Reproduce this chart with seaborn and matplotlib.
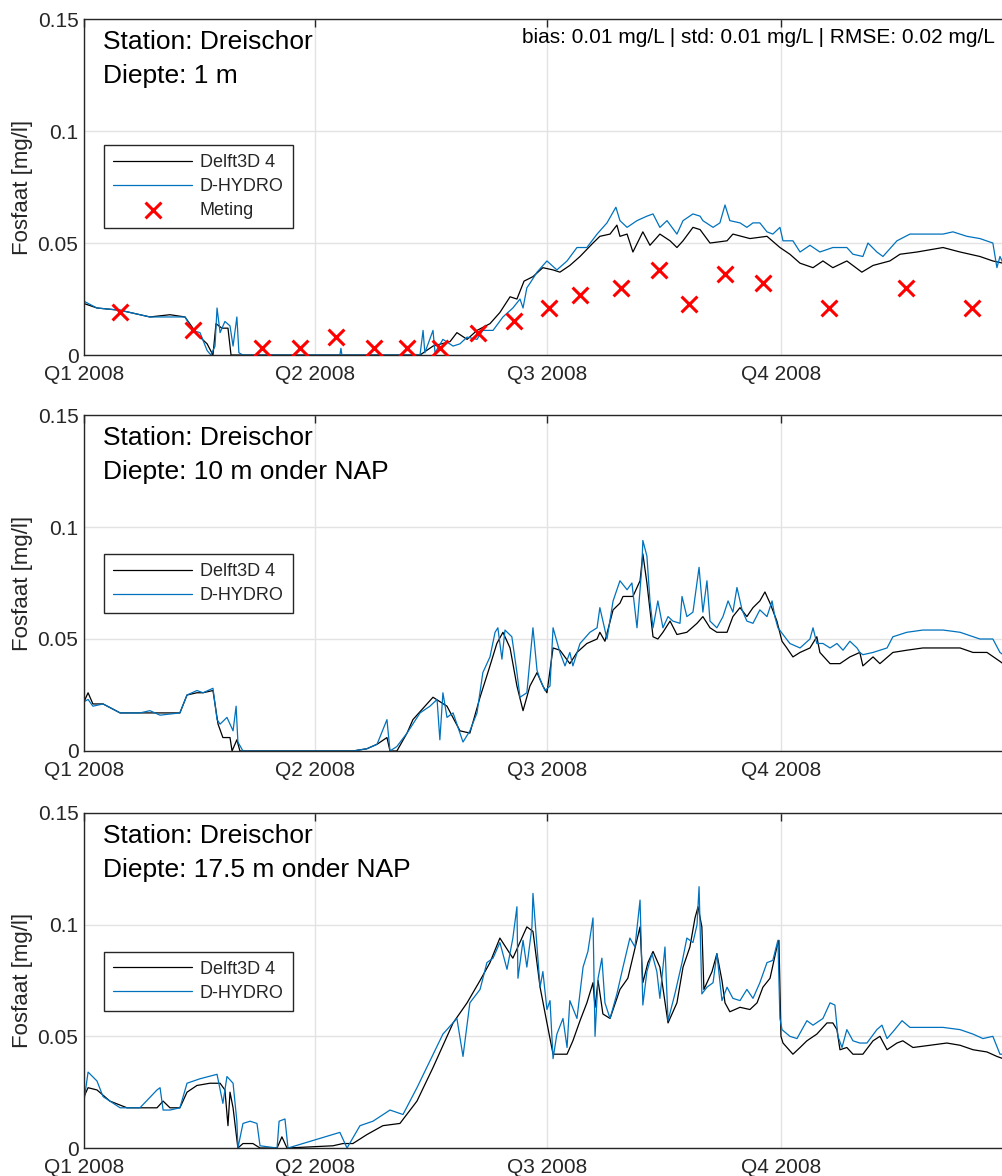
import numpy as np
import pandas as pd
import seaborn as sns
import matplotlib.pyplot as plt

START = pd.Timestamp("2008-01-01")

# ---- Diepte: 1 m (days after 1 Jan 2008, mg/l)
p1_d3d_days = [0, 5.1, 14.2, 25.9, 33.8, 39.7, 42.8, 45.6, 48.4, 50.7, 51.9, 54.2, 56.6, 57.8,
               132.1, 137.2, 143.9, 146.6, 150.6, 154.5, 159.6, 163.5, 167.5, 170.2, 173.0, 176.5,
               180.4, 184.4, 187.1, 191.0, 195.0, 200.1, 202.8, 206.8, 209.5, 210.7, 213.5, 215.8,
               219.7, 222.5, 226.4, 230.4, 233.1, 235.5, 239.4, 242.2, 246.1, 252.8, 255.1, 261.8,
               268.5, 273.6, 277.5, 281.5, 286.6, 290.5, 294.4, 299.9, 305.8, 310.2, 316.8, 320.8,
               327.5, 337.7, 344.4, 352.2, 357.3, 361.3]
p1_d3d_vals = [0.023, 0.021, 0.020, 0.017, 0.018, 0.017, 0.012, 0.008, 0.005, 0.000, 0.014, 0.012, 0.012, 0.000,
               0.000, 0.004, 0.006, 0.010, 0.007, 0.011, 0.014, 0.019, 0.026, 0.025, 0.033, 0.035,
               0.039, 0.038, 0.037, 0.040, 0.044, 0.050, 0.053, 0.054, 0.058, 0.053, 0.054, 0.046,
               0.055, 0.049, 0.054, 0.051, 0.048, 0.051, 0.057, 0.056, 0.050, 0.051, 0.054, 0.052,
               0.053, 0.048, 0.045, 0.041, 0.039, 0.042, 0.039, 0.042, 0.037, 0.040, 0.042, 0.045,
               0.046, 0.048, 0.046, 0.044, 0.042, 0.041]

p1_dh_days = [0, 5.1, 14.2, 25.9, 33.8, 39.7, 42.8, 45.6, 48.4, 49.9, 51.5, 52.3, 53.5, 55.4, 57.4, 58.6,
              60.1, 60.9, 62.5, 100.6, 101.0, 101.4, 132.1, 133.3, 134.0, 137.2, 138.0, 141.1, 145.1,
              147.8, 150.6, 154.5, 156.8, 160.8, 164.7, 168.6, 171.4, 172.6, 174.1, 175.3, 178.1, 182.0,
              185.9, 189.9, 193.8, 197.7, 201.7, 205.6, 209.1, 210.7, 213.5, 217.4, 221.3, 223.7, 226.4,
              229.2, 233.1, 235.5, 239.4, 242.2, 243.3, 247.3, 250.0, 252.0, 253.9, 257.9, 260.6, 263.0,
              265.7, 268.5, 270.8, 273.6, 274.8, 278.7, 281.5, 285.4, 289.3, 294.4, 299.9, 302.3, 306.2,
              308.2, 311.7, 314.1, 319.6, 324.7, 331.4, 337.7, 341.6, 347.1, 352.2, 357.3, 358.9, 360.1,
              361.3]
p1_dh_vals = [0.024, 0.021, 0.020, 0.017, 0.017, 0.017, 0.011, 0.010, 0.002, 0.000, 0.004, 0.021, 0.010, 0.015, 0.013, 0.004,
              0.017, 0.001, 0.000, 0.000, 0.003, 0.000, 0.000, 0.011, 0.001, 0.011, 0.001, 0.007, 0.004,
              0.005, 0.008, 0.007, 0.011, 0.011, 0.017, 0.021, 0.025, 0.021, 0.030, 0.032, 0.037, 0.042,
              0.038, 0.042, 0.048, 0.048, 0.054, 0.059, 0.066, 0.060, 0.057, 0.060, 0.062, 0.063, 0.057,
              0.060, 0.054, 0.060, 0.063, 0.062, 0.060, 0.057, 0.059, 0.067, 0.060, 0.059, 0.057, 0.059,
              0.059, 0.055, 0.054, 0.057, 0.051, 0.051, 0.046, 0.049, 0.046, 0.048, 0.048, 0.045, 0.044,
              0.050, 0.046, 0.044, 0.051, 0.054, 0.054, 0.054, 0.055, 0.053, 0.052, 0.050, 0.039, 0.044,
              0.041]

meting_dates = ["2008-01-15", "2008-02-13", "2008-03-11", "2008-03-26", "2008-04-09", "2008-04-24",
                "2008-05-07", "2008-05-20", "2008-06-04", "2008-06-18", "2008-07-02", "2008-07-14",
                "2008-07-30", "2008-08-14", "2008-08-26", "2008-09-09", "2008-09-24", "2008-10-20",
                "2008-11-19", "2008-12-15"]
meting_vals = [0.019, 0.011, 0.003, 0.003, 0.008, 0.003, 0.003, 0.003, 0.010, 0.015,
               0.021, 0.027, 0.030, 0.038, 0.023, 0.036, 0.032, 0.021, 0.030, 0.021]

# ---- Diepte: 10 m onder NAP
p2_d3d_days = [0, 1.6, 3.5, 7.5, 14.2, 22.0, 29.9, 37.7, 40.5, 44.4, 46.8, 50.7, 52.7, 54.6, 57.4, 58.2,
               60.1, 61.3, 105.7, 111.2, 115.2, 119.1, 120.3, 123.0, 127.0, 129.3, 137.2, 142.7, 147.8,
               151.7, 155.7, 159.6, 162.3, 164.7, 167.5, 170.2, 172.6, 175.3, 178.1, 180.4, 182.0, 184.4,
               187.1, 191.0, 193.8, 197.7, 201.7, 202.8, 204.8, 208.0, 210.7, 211.9, 215.8, 218.6, 219.7,
               221.3, 223.7, 225.6, 227.6, 230.4, 233.1, 237.0, 241.0, 243.3, 246.1, 248.8, 252.8, 255.1,
               257.9, 260.6, 263.0, 265.7, 267.7, 269.7, 272.4, 274.4, 276.3, 278.7, 281.5, 285.4, 288.1,
               289.3, 293.3, 297.2, 301.1, 305.0, 306.2, 310.2, 312.9, 318.0, 323.5, 329.8, 337.7, 344.4,
               349.5, 355.0, 360.1, 361.3]
p2_d3d_vals = [0.022, 0.026, 0.021, 0.021, 0.017, 0.017, 0.017, 0.017, 0.025, 0.026, 0.026, 0.027, 0.012, 0.006, 0.006, 0.000,
               0.005, 0.000, 0.000, 0.001, 0.003, 0.006, 0.000, 0.000, 0.008, 0.014, 0.024, 0.020, 0.009,
               0.008, 0.024, 0.038, 0.048, 0.053, 0.046, 0.029, 0.018, 0.029, 0.035, 0.029, 0.026, 0.046,
               0.045, 0.039, 0.044, 0.048, 0.050, 0.053, 0.049, 0.063, 0.066, 0.069, 0.069, 0.076, 0.088,
               0.075, 0.051, 0.050, 0.053, 0.058, 0.052, 0.053, 0.057, 0.060, 0.055, 0.053, 0.053, 0.060,
               0.064, 0.060, 0.064, 0.067, 0.071, 0.066, 0.058, 0.049, 0.046, 0.042, 0.044, 0.046, 0.051,
               0.044, 0.039, 0.039, 0.042, 0.044, 0.038, 0.042, 0.039, 0.044, 0.045, 0.046, 0.046, 0.046,
               0.044, 0.044, 0.040, 0.039]

p2_dh_days = [0, 1.6, 3.5, 7.5, 14.2, 22.0, 25.9, 29.9, 37.7, 40.5, 44.4, 46.8, 50.7, 52.3, 53.5, 56.2,
              58.6, 59.8, 60.5, 62.5, 105.7, 111.2, 115.2, 119.1, 120.3, 123.0, 127.0, 132.1, 136.0,
              138.8, 139.9, 141.1, 142.7, 145.1, 147.8, 149.0, 151.7, 154.5, 156.8, 159.6, 161.6, 162.7,
              164.3, 165.5, 168.2, 170.2, 171.4, 174.1, 176.5, 178.1, 179.3, 181.2, 183.2, 184.4, 187.1,
              189.1, 191.0, 192.2, 195.0, 198.9, 201.7, 202.8, 205.6, 208.0, 210.7, 213.5, 215.4, 217.4,
              219.3, 219.7, 221.3, 222.5, 223.7, 225.6, 227.6, 229.6, 231.5, 234.3, 235.1, 237.0, 239.4,
              241.8, 243.3, 244.9, 246.1, 248.8, 251.2, 253.2, 255.1, 256.7, 258.7, 260.6, 263.0, 265.7,
              268.5, 270.5, 271.6, 272.8, 274.8, 277.5, 281.5, 285.4, 286.6, 288.1, 290.5, 293.3, 296.0,
              298.4, 301.1, 303.9, 305.0, 306.2, 310.2, 315.7, 318.0, 323.5, 329.8, 337.7, 344.4, 352.2,
              357.3, 360.1, 361.3]
p2_dh_vals = [0.022, 0.023, 0.020, 0.021, 0.017, 0.017, 0.018, 0.016, 0.017, 0.025, 0.027, 0.026, 0.028, 0.014, 0.012, 0.015,
              0.009, 0.020, 0.004, 0.000, 0.000, 0.001, 0.003, 0.014, 0.000, 0.002, 0.008, 0.017, 0.020,
              0.023, 0.005, 0.026, 0.015, 0.017, 0.008, 0.004, 0.009, 0.017, 0.035, 0.042, 0.053, 0.055,
              0.041, 0.054, 0.051, 0.035, 0.024, 0.026, 0.055, 0.036, 0.032, 0.027, 0.029, 0.055, 0.044,
              0.038, 0.044, 0.038, 0.048, 0.053, 0.055, 0.064, 0.050, 0.067, 0.076, 0.072, 0.075, 0.055,
              0.082, 0.094, 0.087, 0.067, 0.055, 0.067, 0.055, 0.060, 0.058, 0.057, 0.069, 0.060, 0.062,
              0.082, 0.062, 0.076, 0.058, 0.055, 0.060, 0.067, 0.062, 0.073, 0.063, 0.058, 0.057, 0.063,
              0.060, 0.067, 0.060, 0.055, 0.052, 0.048, 0.046, 0.050, 0.055, 0.048, 0.048, 0.046, 0.048,
              0.045, 0.049, 0.046, 0.044, 0.043, 0.044, 0.046, 0.051, 0.053, 0.054, 0.054, 0.053, 0.050,
              0.050, 0.044, 0.043]

# ---- Diepte: 17.5 m onder NAP
p3_d3d_days = [0, 1.6, 5.1, 10.2, 16.9, 22.0, 28.7, 31.1, 33.8, 37.7, 40.5, 44.4, 49.5, 53.5, 55.4, 56.6,
               57.4, 58.6, 60.5, 62.5, 66.4, 69.2, 75.9, 77.8, 79.8, 97.9, 101.8, 105.7, 111.2, 117.5,
               124.2, 130.9, 137.2, 145.1, 150.6, 155.7, 159.6, 163.5, 168.6, 174.1, 176.5, 179.3, 182.0,
               184.4, 189.9, 192.2, 195.0, 197.7, 200.1, 200.9, 202.1, 204.0, 206.8, 210.7, 213.8, 218.6,
               219.7, 221.7, 223.7, 226.4, 229.6, 233.1, 235.5, 238.2, 240.2, 241.4, 242.9, 243.7, 246.9,
               248.8, 250.8, 252.0, 253.9, 257.9, 261.8, 264.6, 266.9, 269.7, 272.4, 273.2, 274.0, 274.8,
               278.7, 281.5, 284.2, 288.1, 292.1, 294.4, 296.0, 297.2, 299.9, 302.3, 306.2, 310.2, 312.9,
               315.7, 319.6, 321.9, 325.9, 332.6, 339.2, 344.4, 349.5, 355.0, 358.9, 361.3]
p3_d3d_vals = [0.023, 0.027, 0.026, 0.021, 0.018, 0.018, 0.018, 0.021, 0.018, 0.018, 0.025, 0.028, 0.029, 0.029, 0.026, 0.010,
               0.025, 0.018, 0.000, 0.002, 0.002, 0.000, 0.000, 0.005, 0.000, 0.001, 0.002, 0.002, 0.006, 0.010,
               0.011, 0.021, 0.036, 0.056, 0.065, 0.075, 0.083, 0.094, 0.085, 0.099, 0.097, 0.072, 0.056,
               0.042, 0.042, 0.048, 0.057, 0.065, 0.074, 0.063, 0.075, 0.060, 0.058, 0.071, 0.076, 0.099,
               0.074, 0.083, 0.088, 0.081, 0.056, 0.065, 0.081, 0.090, 0.103, 0.108, 0.099, 0.071, 0.079,
               0.087, 0.075, 0.065, 0.061, 0.063, 0.062, 0.065, 0.072, 0.076, 0.090, 0.093, 0.050, 0.047,
               0.042, 0.045, 0.048, 0.051, 0.056, 0.056, 0.053, 0.044, 0.045, 0.042, 0.042, 0.048, 0.050,
               0.044, 0.047, 0.048, 0.045, 0.046, 0.047, 0.046, 0.044, 0.043, 0.041, 0.040]

p3_dh_days = [0, 1.6, 5.1, 7.5, 14.2, 22.0, 28.7, 29.9, 31.1, 33.8, 37.7, 40.5, 45.6, 52.3, 54.6, 56.2,
              58.6, 60.1, 60.5, 62.5, 65.3, 68.0, 69.2, 75.9, 76.7, 79.0, 80.2, 100.6, 103.4, 108.5,
              113.6, 120.3, 125.4, 130.9, 136.0, 141.1, 146.6, 149.0, 151.7, 155.7, 158.4, 160.8, 163.5,
              166.3, 168.6, 170.2, 170.6, 172.6, 174.1, 176.1, 176.5, 178.1, 179.3, 180.4, 182.0, 183.2,
              184.4, 185.9, 188.3, 189.9, 191.0, 193.8, 196.2, 198.1, 200.1, 200.9, 202.1, 203.6, 204.8,
              206.8, 209.5, 211.9, 214.6, 216.6, 218.6, 219.7, 221.3, 223.3, 225.2, 226.4, 228.4, 229.6,
              232.3, 235.1, 237.0, 239.4, 241.0, 241.8, 242.9, 244.9, 247.3, 248.8, 250.8, 252.8, 255.1,
              257.9, 260.6, 263.0, 265.7, 268.5, 270.8, 272.8, 273.6, 274.4, 277.5, 280.3, 284.2, 286.6,
              290.5, 293.3, 295.2, 296.4, 298.0, 299.9, 302.3, 305.0, 307.8, 311.7, 313.7, 315.7, 318.0,
              321.6, 324.7, 331.4, 337.7, 344.4, 349.5, 353.4, 357.3, 360.1, 361.3]
p3_dh_vals = [0.021, 0.034, 0.030, 0.023, 0.018, 0.018, 0.026, 0.027, 0.017, 0.017, 0.018, 0.029, 0.031, 0.033, 0.020, 0.032,
              0.029, 0.012, 0.000, 0.011, 0.012, 0.011, 0.001, 0.000, 0.012, 0.013, 0.000, 0.007, 0.000, 0.010,
              0.012, 0.017, 0.015, 0.027, 0.039, 0.051, 0.058, 0.041, 0.065, 0.071, 0.083, 0.085, 0.092,
              0.080, 0.094, 0.108, 0.076, 0.093, 0.081, 0.099, 0.114, 0.090, 0.072, 0.079, 0.062, 0.066,
              0.040, 0.051, 0.058, 0.045, 0.066, 0.058, 0.081, 0.088, 0.103, 0.050, 0.076, 0.085, 0.065,
              0.058, 0.069, 0.081, 0.094, 0.090, 0.111, 0.064, 0.079, 0.087, 0.079, 0.067, 0.090, 0.057,
              0.069, 0.083, 0.094, 0.092, 0.100, 0.117, 0.069, 0.072, 0.074, 0.087, 0.066, 0.072, 0.067,
              0.066, 0.071, 0.067, 0.074, 0.083, 0.084, 0.093, 0.058, 0.053, 0.050, 0.049, 0.057, 0.055,
              0.058, 0.065, 0.064, 0.050, 0.045, 0.053, 0.048, 0.047, 0.047, 0.053, 0.055, 0.049, 0.052,
              0.057, 0.054, 0.054, 0.054, 0.053, 0.051, 0.049, 0.050, 0.042, 0.042]

depth_labels = ["Diepte: 1 m", "Diepte: 10 m onder NAP", "Diepte: 17.5 m onder NAP"]
station_label = "Station: Dreischor"
stats_label = "bias: 0.01 mg/L | std: 0.01 mg/L | RMSE: 0.02 mg/L"
quarter_ticks = ["2008-01-01", "2008-04-01", "2008-07-01", "2008-10-01"]
quarter_labels = ["Q1 2008", "Q2 2008", "Q3 2008", "Q4 2008"]

panels = [
    (p1_d3d_days, p1_d3d_vals, p1_dh_days, p1_dh_vals),
    (p2_d3d_days, p2_d3d_vals, p2_dh_days, p2_dh_vals),
    (p3_d3d_days, p3_d3d_vals, p3_dh_days, p3_dh_vals),
]


def to_dates(days):
    return START + pd.to_timedelta(np.asarray(days), unit="D")


sns.set_theme(style="white")
plt.rcParams["font.family"] = ["Liberation Sans", "DejaVu Sans"]
plt.rcParams["axes.unicode_minus"] = False

fig = plt.figure(figsize=(10.03, 11.76), dpi=100)
ax_pos = [
    [0.08375, 0.6981, 0.9282, 0.2857],
    [0.08375, 0.3614, 0.9282, 0.2857],
    [0.08375, 0.0238, 0.9282, 0.2849],
]
ink = "#262626"
palette = {"Delft3D 4": "black", "D-HYDRO": "#0072BD"}

for i, (d_days, d_vals, h_days, h_vals) in enumerate(panels):
    ax = fig.add_axes(ax_pos[i])
    df = pd.concat([
        pd.DataFrame({"datum": to_dates(d_days), "fosfaat": d_vals, "model": "Delft3D 4"}),
        pd.DataFrame({"datum": to_dates(h_days), "fosfaat": h_vals, "model": "D-HYDRO"}),
    ])
    sns.lineplot(data=df, x="datum", y="fosfaat", hue="model", hue_order=["Delft3D 4", "D-HYDRO"],
                 palette=palette, estimator=None, linewidth=0.9, ax=ax)
    if i == 0:
        sns.scatterplot(x=pd.to_datetime(meting_dates), y=meting_vals, marker="x", color="red",
                        s=130, linewidth=2.2, label="Meting", ax=ax, zorder=5)
        ax.text(0.9785, 0.946, stats_label, transform=ax.transAxes, ha="right", va="center",
                fontsize=15, color="black")

    ax.set_xlim(pd.Timestamp("2008-01-01"), pd.Timestamp("2009-01-01"))
    ax.set_ylim(0, 0.15)
    ax.set_xticks(pd.to_datetime(quarter_ticks))
    ax.set_xticklabels(quarter_labels)
    ax.set_yticks([0, 0.05, 0.1, 0.15])
    ax.set_yticklabels(["0", "0.05", "0.1", "0.15"])
    ax.set_xlabel("")
    ax.set_ylabel("Fosfaat [mg/l]", fontsize=16, color=ink, labelpad=3)
    ax.grid(True, color="#e3e3e3", linewidth=1.0)
    ax.set_axisbelow(True)
    ax.tick_params(axis="both", direction="in", length=6, width=1, colors=ink,
                   labelsize=15, top=True, right=True, pad=4)
    ax.tick_params(axis="x", pad=7)
    for sp in ax.spines.values():
        sp.set_color(ink)
        sp.set_linewidth(1.0)

    ax.text(0.0204, 0.967, station_label, transform=ax.transAxes, ha="left", va="top",
            fontsize=19, color="black")
    ax.text(0.0204, 0.866, depth_labels[i], transform=ax.transAxes, ha="left", va="top",
            fontsize=19, color="black")

    handles, labels = ax.get_legend_handles_labels()
    leg_top = 0.625 if i == 0 else 0.586
    leg = ax.legend(handles, labels, loc="upper left", bbox_to_anchor=(0.0215, leg_top),
                    borderaxespad=0, fontsize=13, handlelength=4.4, handletextpad=0.4,
                    borderpad=0.5, labelspacing=0.38, fancybox=False, framealpha=1,
                    edgecolor=ink, scatterpoints=1)
    leg.get_frame().set_linewidth(1.0)

fig.savefig("out.png", dpi=100)
